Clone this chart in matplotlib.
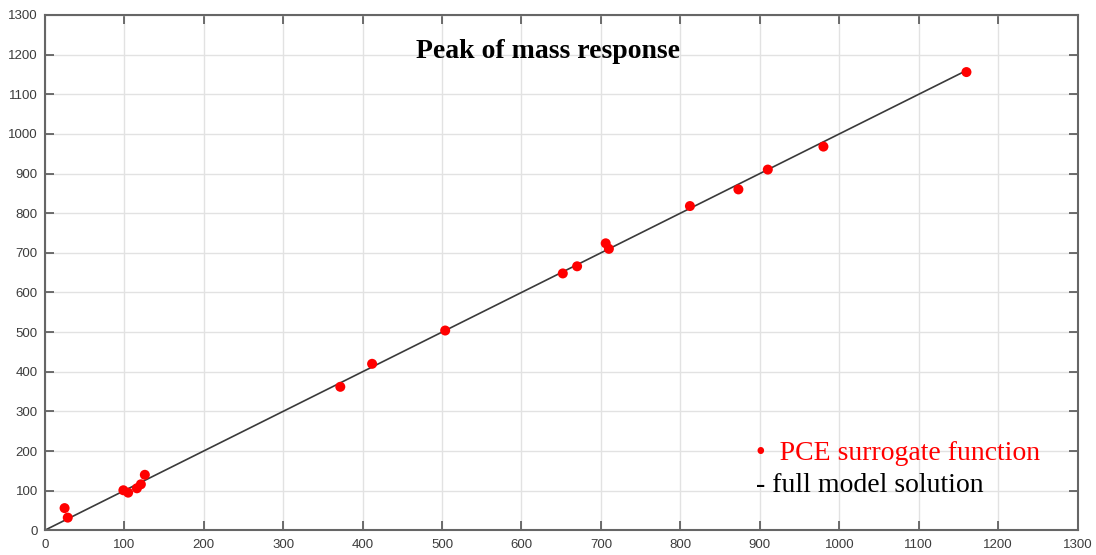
import matplotlib
matplotlib.use("Agg")
import matplotlib.pyplot as plt
import numpy as np

# full model solution (x) vs PCE surrogate (y)
full_model = [25, 29, 99, 105, 116, 121, 126, 372, 412, 504, 652, 670, 706, 710, 812, 873, 910, 980, 1160]
pce_surrogate = [56, 32, 101, 95, 106, 116, 140, 362, 420, 504, 648, 666, 724, 710, 818, 860, 910, 968, 1156]
line_x = [0, 1160]
line_y = [0, 1160]
ticks = list(range(0, 1301, 100))

fig = plt.figure(figsize=(10.96, 5.55), dpi=100)
ax = fig.add_axes([0.0408, 0.0445, 0.9425, 0.9285])

ax.plot(line_x, line_y, color="#3a3a3a", lw=1.2, zorder=2)
ax.scatter(full_model, pce_surrogate, s=52, color="#ff0000", edgecolors="none", zorder=3)

ax.set_xlim(0, 1300)
ax.set_ylim(0, 1300)
ax.set_xticks(ticks)
ax.set_yticks(ticks)
ax.grid(True, color="#e2e2e2", lw=1.0, zorder=0)
ax.set_axisbelow(True)
ax.tick_params(direction="in", top=True, right=True, length=6.5, width=1.2,
               color="#555555", labelcolor="#3c3c3c", labelsize=9.5)
ax.tick_params(axis="x", pad=6)
ax.tick_params(axis="y", pad=5)
for lab in ax.get_xticklabels() + ax.get_yticklabels():
    lab.set_family("Liberation Sans")
for s in ax.spines.values():
    s.set_color("#666666")
    s.set_linewidth(1.5)

ax.text(0.487, 0.929, "Peak of mass response", transform=ax.transAxes,
        ha="center", va="center", fontsize=20, fontweight="bold",
        family="Liberation Serif", color="black")
ax.text(0.689, 0.150, "\u2022  PCE surrogate function", transform=ax.transAxes,
        ha="left", va="center", fontsize=20, family="Liberation Serif", color="#ff0000")
ax.text(0.689, 0.086, "- full model solution", transform=ax.transAxes,
        ha="left", va="center", fontsize=20, family="Liberation Serif", color="black")

fig.savefig("out.png", dpi=100)
